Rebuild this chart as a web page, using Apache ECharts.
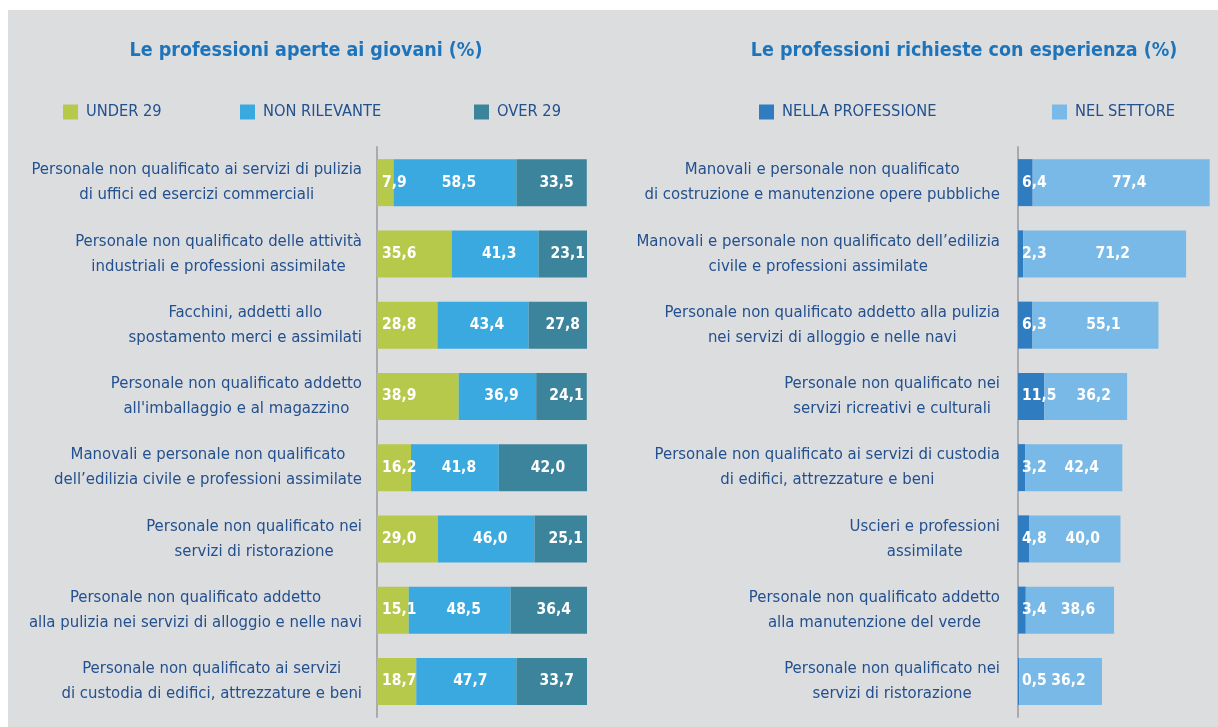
<!DOCTYPE html>
<html>
<head>
<meta charset="utf-8">
<title>Professioni</title>
<script src="https://cdn.jsdelivr.net/npm/echarts@6/dist/echarts.min.js"></script>
<style>
    html, body { margin: 0; padding: 0; background: #ffffff; }
    #panel { position: absolute; left: 8px; top: 10px; right: 0; bottom: 0; background: #dcdddf; }
    #chart { position: absolute; left: 0; top: 0; width: 1218px; height: 727px; }
</style>
</head>
<body>
<div id="panel"></div>
<div id="chart"></div>
<script>
    // grafico di sinistra: professioni aperte ai giovani
    const leftCategories = [
        'Personale non qualificato ai servizi di pulizia\ndi uffici ed esercizi commerciali',
        'Personale non qualificato delle attività\nindustriali e professioni assimilate',
        'Facchini, addetti allo\nspostamento merci e assimilati',
        "Personale non qualificato addetto\nall'imballaggio e al magazzino",
        'Manovali e personale non qualificato\ndell’edilizia civile e professioni assimilate',
        'Personale non qualificato nei\nservizi di ristorazione',
        'Personale non qualificato addetto\nalla pulizia nei servizi di alloggio e nelle navi',
        'Personale non qualificato ai servizi\ndi custodia di edifici, attrezzature e beni'
    ];
    const under29 = [7.9, 35.6, 28.8, 38.9, 16.2, 29.0, 15.1, 18.7];
    const nonRilevante = [58.5, 41.3, 43.4, 36.9, 41.8, 46.0, 48.5, 47.7];
    const over29 = [33.5, 23.1, 27.8, 24.1, 42.0, 25.1, 36.4, 33.7];

    // grafico di destra: professioni richieste con esperienza
    const rightCategories = [
        'Manovali e personale non qualificato\ndi costruzione e manutenzione opere pubbliche',
        'Manovali e personale non qualificato dell’edilizia\ncivile e professioni assimilate',
        'Personale non qualificato addetto alla pulizia\nnei servizi di alloggio e nelle navi',
        'Personale non qualificato nei\nservizi ricreativi e culturali',
        'Personale non qualificato ai servizi di custodia\ndi edifici, attrezzature e beni',
        'Uscieri e professioni\nassimilate',
        'Personale non qualificato addetto\nalla manutenzione del verde',
        'Personale non qualificato nei\nservizi di ristorazione'
    ];
    const nellaProfessione = [6.4, 2.3, 6.3, 11.5, 3.2, 4.8, 3.4, 0.5];
    const nelSettore = [77.4, 71.2, 55.1, 36.2, 42.4, 40.0, 38.6, 36.2];

    const FONT = '"Liberation Sans Narrow", "DejaVu Sans Condensed", "Roboto Condensed", sans-serif';
    const TEXT_BLUE = '#23508e';
    const TITLE_BLUE = '#1d74bb';

    function fmt(p) {
        return p.value.toFixed(1).replace('.', ',');
    }

    // righe centrate dentro un blocco allineato a destra
    function catLabel(v) {
        return v.split('\n').map(function (l) { return '{c|' + l + '}'; }).join('\n');
    }

    function valueLabel(position, distance, dx) {
        return {
            show: true,
            position: position,
            distance: distance,
            offset: [dx || 0, 0],
            color: '#ffffff',
            fontFamily: FONT,
            fontWeight: 'bold',
            fontSize: 15.5,
            formatter: fmt
        };
    }

    function legendItem(name, left) {
        return {
            data: [name],
            left: left,
            top: 104,
            padding: 0,
            icon: 'rect',
            itemWidth: 15,
            itemHeight: 15,
            selectedMode: false,
            textStyle: { color: TEXT_BLUE, fontFamily: FONT, fontSize: 16.3, padding: [0, 0, 0, 3] }
        };
    }

    function yAxisFor(cats, gridIndex, margin) {
        return {
            type: 'category',
            gridIndex: gridIndex,
            data: cats,
            inverse: true,
            axisTick: { show: false },
            axisLine: { show: true, lineStyle: { color: '#a9aaad', width: 2 } },
            axisLabel: {
                margin: margin,
                align: 'right',
                formatter: catLabel,
                rich: {
                    c: { align: 'center', color: TEXT_BLUE, fontFamily: FONT, fontSize: 16.6, lineHeight: 25 }
                }
            }
        };
    }

    const chart = echarts.init(document.getElementById('chart'), null, { renderer: 'canvas' });

    const option = {
        backgroundColor: 'transparent',
        animation: false,
        title: [
            {
                text: 'Le professioni aperte ai giovani (%)',
                left: 301, top: 36, textAlign: 'center',
                textStyle: { color: TITLE_BLUE, fontFamily: FONT, fontWeight: 'bold', fontSize: 19.5 }
            },
            {
                text: 'Le professioni richieste con esperienza (%)',
                left: 959, top: 36, textAlign: 'center',
                textStyle: { color: TITLE_BLUE, fontFamily: FONT, fontWeight: 'bold', fontSize: 19.5 }
            }
        ],
        legend: [
            legendItem('UNDER 29', 63),
            legendItem('NON RILEVANTE', 240),
            legendItem('OVER 29', 474),
            legendItem('NELLA PROFESSIONE', 759),
            legendItem('NEL SETTORE', 1052)
        ],
        grid: [
            { left: 377, width: 210, top: 147, bottom: 10 },
            { left: 1018, width: 199, top: 147, bottom: 10 }
        ],
        xAxis: [
            { type: 'value', gridIndex: 0, min: 0, max: 100, show: false },
            { type: 'value', gridIndex: 1, min: 0, max: 87, show: false }
        ],
        yAxis: [
            yAxisFor(leftCategories, 0, 15),
            yAxisFor(rightCategories, 1, 18)
        ],
        series: [
            {
                name: 'UNDER 29', type: 'bar', stack: 'giovani', xAxisIndex: 0, yAxisIndex: 0,
                barWidth: 47, itemStyle: { color: '#b7c94b' },
                label: valueLabel('insideLeft', 5),
                data: under29
            },
            {
                name: 'NON RILEVANTE', type: 'bar', stack: 'giovani', xAxisIndex: 0, yAxisIndex: 0,
                barWidth: 47, itemStyle: { color: '#3aa9e0' },
                label: valueLabel('inside', 5, 4),
                data: nonRilevante
            },
            {
                name: 'OVER 29', type: 'bar', stack: 'giovani', xAxisIndex: 0, yAxisIndex: 0,
                barWidth: 47, itemStyle: { color: '#3c849b' },
                label: valueLabel('inside', 5, 5),
                data: over29
            },
            {
                name: 'NELLA PROFESSIONE', type: 'bar', stack: 'esperienza', xAxisIndex: 1, yAxisIndex: 1,
                barWidth: 47, itemStyle: { color: '#2f7cc0' },
                label: valueLabel('insideLeft', 4),
                data: nellaProfessione
            },
            {
                name: 'NEL SETTORE', type: 'bar', stack: 'esperienza', xAxisIndex: 1, yAxisIndex: 1,
                barWidth: 47, itemStyle: { color: '#79b9e7' },
                label: valueLabel('inside', 5, 8),
                data: nelSettore
            }
        ]
    };

    chart.setOption(option);
    window.addEventListener('resize', function () {
        chart.resize();
    });
</script>
</body>
</html>
